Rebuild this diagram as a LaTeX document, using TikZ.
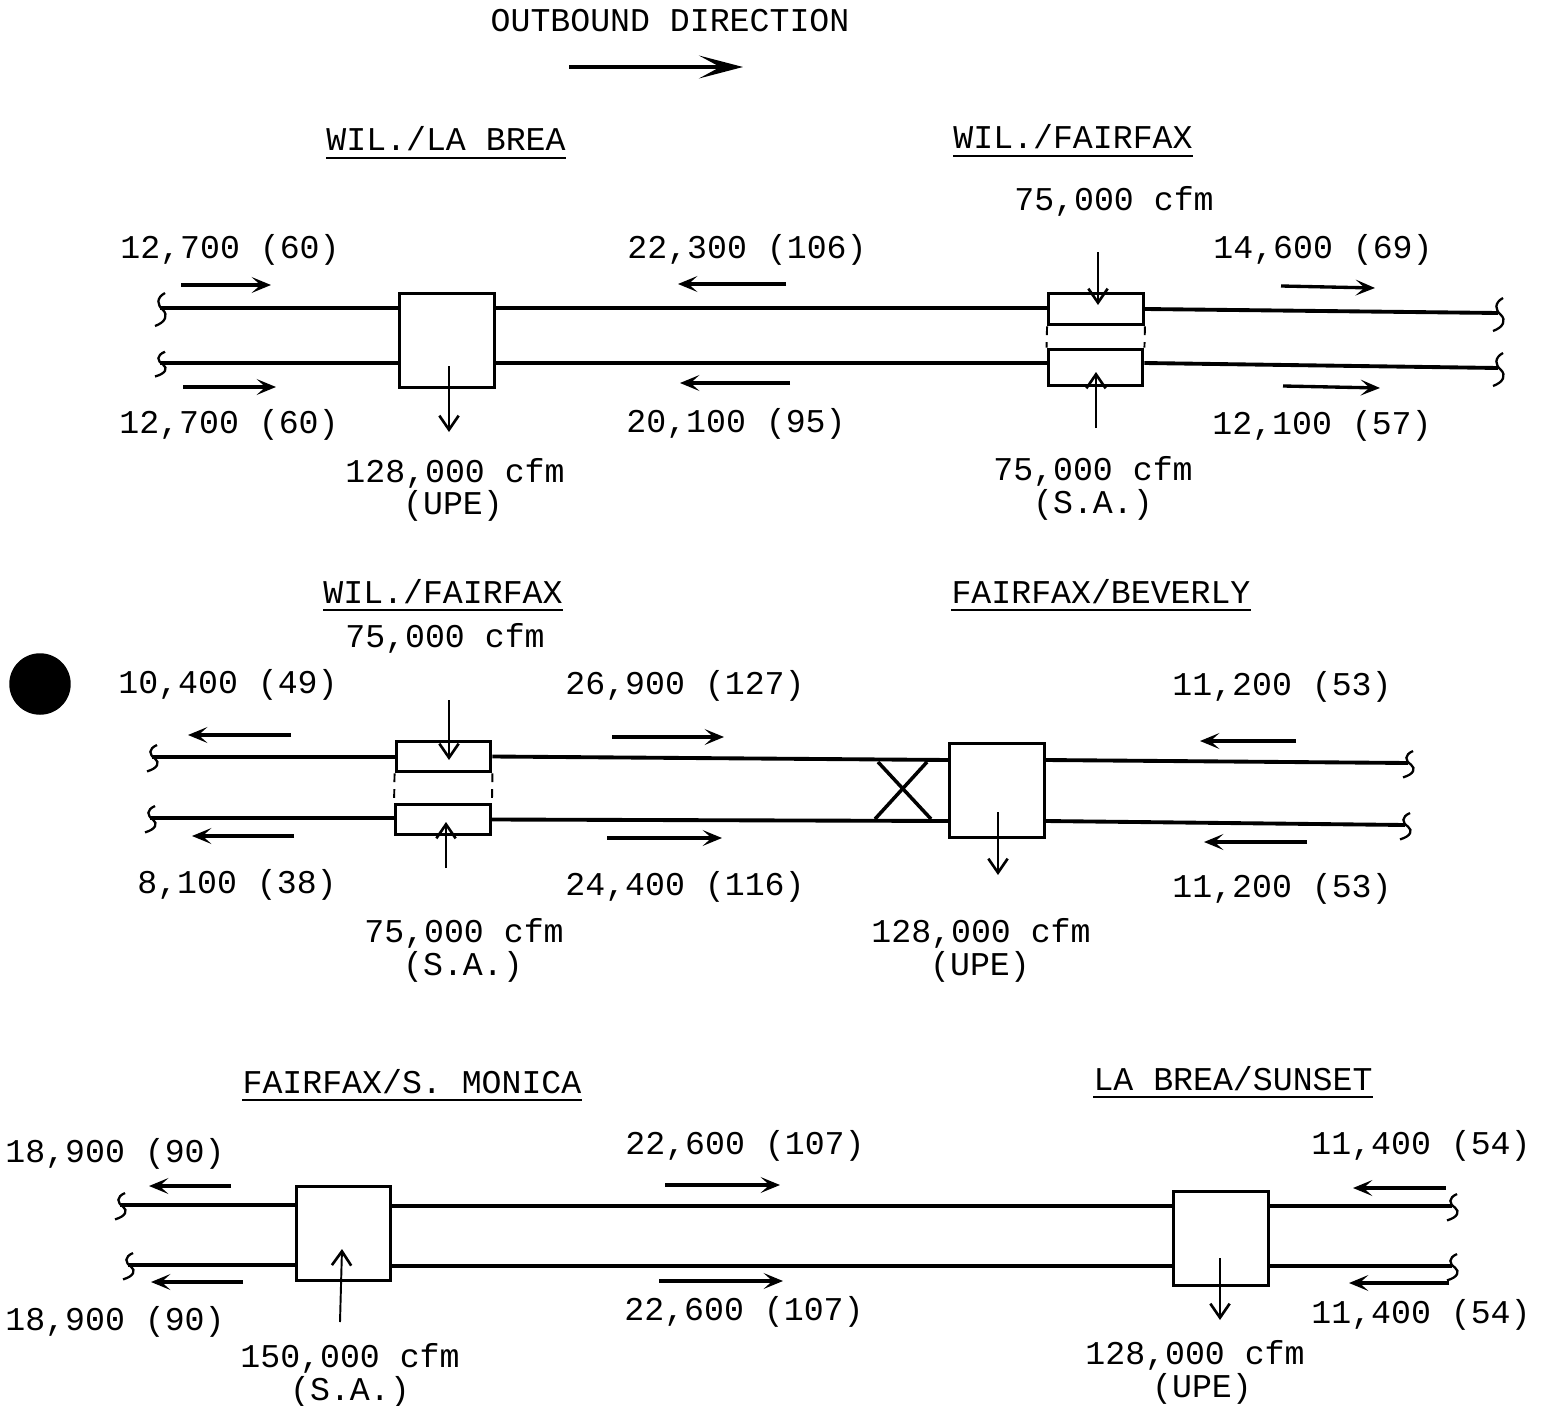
\documentclass[tikz,border=0pt]{standalone}
\usepackage{fontspec}
\setmainfont{Liberation Mono}
\usetikzlibrary{arrows.meta}
\tikzset{
  lbl/.style={anchor=base, inner sep=0pt, font=\fontsize{18.9}{22}\selectfont},
  heading/.style={lbl, text depth=3.8pt},
  rule/.style={line width=1.2pt},
  duct/.style={line width=2.2pt},
  crossing/.style={line width=2pt},
  ductbox/.style={draw, line width=1.7pt, fill=white, inner sep=0pt, minimum width=54pt},
  tie/.style={line width=1.1pt, dashed, dash pattern=on 5pt off 4pt},
  flow/.style={line width=1.9pt, -{Stealth[length=11pt, width=9pt, inset=5pt]}},
  stem/.style={line width=1.1pt, -{Straight Barb[length=8pt, width=11pt, line width=1.5pt]}},
  squig/.pic={\draw[line width=1.3pt] (5,-15) .. controls (-4,-10) and (-3,-3) .. (3,2) .. controls (8,7) and (6,14) .. (-5,18);}
}
\begin{document}
\begin{tikzpicture}[x=0.02cm, y=-0.02cm]
  \useasboundingbox (0,0) rectangle (1546,1406);

  % direction key
  \node[lbl] (title) at (670,32) {OUTBOUND DIRECTION};
  \coordinate (keys) at (569,67); \coordinate (keye) at (743,67);
  \draw[line width=2.4pt, -{Stealth[length=25pt, width=13pt, inset=12pt]}] (keys) -- (keye);

  % blot on the sheet
  \node[circle, fill=black, inner sep=0pt, minimum size=35pt] (blot) at (40,684) {};

  % Row 1: La Brea to Fairfax
  \node[heading] (hlabrea) at (446,151) {WIL./LA BREA};
  \node[heading] (hfairfax) at (1073,149) {WIL./FAIRFAX};
  \draw[rule] (hlabrea.south west) -- (hlabrea.south east);
  \draw[rule] (hfairfax.south west) -- (hfairfax.south east);

  \node[ductbox, minimum height=53pt] (boxa) at (447,340.5) {};
  \node[ductbox, minimum height=18pt] (boxb) at (1096,309) {};
  \node[ductbox, minimum height=21pt] (boxc) at (1095.5,367.5) {};

  \coordinate (a1) at (160,308); \coordinate (a2) at (160,363);
  \coordinate (a3) at (1498,313); \coordinate (a4) at (1498,368);
  \draw[duct] (a1) -- (a1 -| boxa.west);
  \draw[duct] (a2) -- (a2 -| boxa.west);
  \draw[duct] (boxa.east |- a1) -- (a1 -| boxb.west);
  \draw[duct] (boxa.east |- a2) -- (a2 -| boxc.west);
  \draw[duct] (boxb.east) -- (a3);
  \draw[duct] (boxc.east |- a2) -- (a4);
  \draw[tie] (boxb.south west) -- (boxc.north west);
  \draw[tie] (boxb.south east) -- (boxc.north east);
  \pic at (a1) {squig};
  \pic[yscale=0.75] at (a2) {squig};
  \pic at (a3) {squig};
  \pic at (a4) {squig};

  \coordinate (f1s) at (181,285); \coordinate (f1e) at (271,285); \draw[flow] (f1s) -- (f1e);
  \coordinate (f2s) at (183,387); \coordinate (f2e) at (276,387); \draw[flow] (f2s) -- (f2e);
  \coordinate (f3s) at (786,284); \coordinate (f3e) at (678,284); \draw[flow] (f3s) -- (f3e);
  \coordinate (f4s) at (790,383); \coordinate (f4e) at (680,383); \draw[flow] (f4s) -- (f4e);
  \coordinate (f5s) at (1281,286); \coordinate (f5e) at (1375,288); \draw[flow] (f5s) -- (f5e);
  \coordinate (f6s) at (1283,386); \coordinate (f6e) at (1380,388); \draw[flow] (f6s) -- (f6e);
  \coordinate (s1s) at (1098,252); \coordinate (s1e) at (1098,305); \draw[stem] (s1s) -- (s1e);
  \coordinate (s2s) at (1096,428); \coordinate (s2e) at (1096,372); \draw[stem] (s2s) -- (s2e);
  \coordinate (s3s) at (449,366); \coordinate (s3e) at (449,432); \draw[stem] (s3s) -- (s3e);

  \node[lbl] (q1) at (1114,211) {75,000 cfm};
  \node[lbl] (q2) at (230,258) {12,700 (60)};
  \node[lbl] (q3) at (747,258) {22,300 (106)};
  \node[lbl] (q4) at (1323,258) {14,600 (69)};
  \node[lbl] (q5) at (229,433) {12,700 (60)};
  \node[lbl] (q6) at (736,432) {20,100 (95)};
  \node[lbl] (q7) at (1322,434) {12,100 (57)};
  \node[lbl] (q8) at (455,482) {128,000 cfm};
  \node[lbl] (q9) at (453,514) {(UPE)};
  \node[lbl] (q10) at (1093,480) {75,000 cfm};
  \node[lbl] (q11) at (1093,513) {(S.A.)};

  % Row 2: Fairfax to Beverly
  \node[heading] (hwil) at (443,603) {WIL./FAIRFAX};
  \node[heading] (hbeverly) at (1101,603) {FAIRFAX/BEVERLY};
  \draw[rule] (hwil.south west) -- (hwil.south east);
  \draw[rule] (hbeverly.south west) -- (hbeverly.south east);

  \node[ductbox, minimum height=17.5pt] (boxd) at (443.5,756.5) {};
  \node[ductbox, minimum height=17.5pt] (boxe) at (443,819.5) {};
  \node[ductbox, minimum height=54pt] (boxf) at (997,790.5) {};

  \coordinate (b1) at (152,757); \coordinate (b2) at (150,818);
  \coordinate (b3) at (1408,763); \coordinate (b4) at (1405,825);
  \coordinate (b5) at (949,760); \coordinate (b6) at (949,821);
  \coordinate (b7) at (1045,760); \coordinate (b8) at (1045,821);
  \draw[duct] (b1) -- (b1 -| boxd.west);
  \draw[duct] (b2) -- (b2 -| boxe.west);
  \draw[duct] (boxd.east) -- (b5);
  \draw[duct] (boxe.east) -- (b6);
  \draw[duct] (b7) -- (b3);
  \draw[duct] (b8) -- (b4);
  \draw[tie] (boxd.south west) -- (boxe.north west);
  \draw[tie] (boxd.south east) -- (boxe.north east);
  \pic[yscale=0.8] at (b1) {squig};
  \pic[yscale=0.8] at (b2) {squig};
  \pic[yscale=0.8] at (b3) {squig};
  \pic[yscale=0.8] at (b4) {squig};

  % crossover
  \coordinate (x1) at (878,762); \coordinate (x2) at (931,819);
  \coordinate (x3) at (927,762); \coordinate (x4) at (875,819);
  \draw[crossing] (x1) -- (x2);
  \draw[crossing] (x3) -- (x4);

  \coordinate (f7s) at (291,735); \coordinate (f7e) at (188,735); \draw[flow] (f7s) -- (f7e);
  \coordinate (f8s) at (294,836); \coordinate (f8e) at (192,836); \draw[flow] (f8s) -- (f8e);
  \coordinate (f9s) at (612,737); \coordinate (f9e) at (724,737); \draw[flow] (f9s) -- (f9e);
  \coordinate (f10s) at (607,838); \coordinate (f10e) at (722,838); \draw[flow] (f10s) -- (f10e);
  \coordinate (f11s) at (1296,741); \coordinate (f11e) at (1200,741); \draw[flow] (f11s) -- (f11e);
  \coordinate (f12s) at (1307,842); \coordinate (f12e) at (1204,842); \draw[flow] (f12s) -- (f12e);
  \coordinate (s4s) at (449,700); \coordinate (s4e) at (449,760); \draw[stem] (s4s) -- (s4e);
  \coordinate (s5s) at (446,868); \coordinate (s5e) at (446,822); \draw[stem] (s5s) -- (s5e);
  \coordinate (s6s) at (998,812); \coordinate (s6e) at (998,875); \draw[stem] (s6s) -- (s6e);

  \node[lbl] (r1) at (445,647) {75,000 cfm};
  \node[lbl] (r2) at (228,693) {10,400 (49)};
  \node[lbl] (r3) at (685,694) {26,900 (127)};
  \node[lbl] (r4) at (1282,695) {11,200 (53)};
  \node[lbl] (r5) at (237,893) {8,100 (38)};
  \node[lbl] (r6) at (685,895) {24,400 (116)};
  \node[lbl] (r7) at (1282,897) {11,200 (53)};
  \node[lbl] (r8) at (464,942) {75,000 cfm};
  \node[lbl] (r9) at (463,975) {(S.A.)};
  \node[lbl] (r10) at (981,942) {128,000 cfm};
  \node[lbl] (r11) at (980,975) {(UPE)};

  % Row 3: Santa Monica to Sunset
  \node[heading] (hmonica) at (412,1093) {FAIRFAX/S. MONICA};
  \node[heading] (hsunset) at (1233,1090) {LA BREA/SUNSET};
  \draw[rule] (hmonica.south west) -- (hmonica.south east);
  \draw[rule] (hsunset.south west) -- (hsunset.south east);

  \node[ductbox, minimum height=53.5pt] (boxg) at (343.5,1233) {};
  \node[ductbox, minimum height=53.5pt] (boxh) at (1221,1238) {};

  \coordinate (c1) at (120,1205); \coordinate (c2) at (128,1265);
  \coordinate (c3) at (1452,1206); \coordinate (c4) at (1452,1266);
  \draw[duct] (c1) -- (c1 -| boxg.west);
  \draw[duct] (c2) -- (c2 -| boxg.west);
  \draw[duct] (boxg.east |- c3) -- (c3 -| boxh.west);
  \draw[duct] (boxg.east |- c4) -- (c4 -| boxh.west);
  \draw[duct] (boxh.east |- c3) -- (c3);
  \draw[duct] (boxh.east |- c4) -- (c4);
  \pic[yscale=0.8] at (c1) {squig};
  \pic[yscale=0.8] at (c2) {squig};
  \pic[yscale=0.8] at (c3) {squig};
  \pic[yscale=0.8] at (c4) {squig};

  \coordinate (f13s) at (231,1186); \coordinate (f13e) at (149,1186); \draw[flow] (f13s) -- (f13e);
  \coordinate (f14s) at (243,1282); \coordinate (f14e) at (151,1282); \draw[flow] (f14s) -- (f14e);
  \coordinate (f15s) at (665,1185); \coordinate (f15e) at (780,1185); \draw[flow] (f15s) -- (f15e);
  \coordinate (f16s) at (659,1281); \coordinate (f16e) at (783,1281); \draw[flow] (f16s) -- (f16e);
  \coordinate (f17s) at (1446,1188); \coordinate (f17e) at (1353,1188); \draw[flow] (f17s) -- (f17e);
  \coordinate (f18s) at (1449,1283); \coordinate (f18e) at (1349,1283); \draw[flow] (f18s) -- (f18e);
  \coordinate (s7s) at (340,1322); \coordinate (s7e) at (342,1249); \draw[stem] (s7s) -- (s7e);
  \coordinate (s8s) at (1220,1258); \coordinate (s8e) at (1220,1320); \draw[stem] (s8s) -- (s8e);

  \node[lbl] (t1) at (115,1162) {18,900 (90)};
  \node[lbl] (t2) at (745,1154) {22,600 (107)};
  \node[lbl] (t3) at (1421,1154) {11,400 (54)};
  \node[lbl] (t4) at (115,1330) {18,900 (90)};
  \node[lbl] (t5) at (744,1320) {22,600 (107)};
  \node[lbl] (t6) at (1421,1323) {11,400 (54)};
  \node[lbl] (t7) at (350,1367) {150,000 cfm};
  \node[lbl] (t8) at (350,1400) {(S.A.)};
  \node[lbl] (t9) at (1195,1364) {128,000 cfm};
  \node[lbl] (t10) at (1202,1397) {(UPE)};
\end{tikzpicture}
\end{document}
